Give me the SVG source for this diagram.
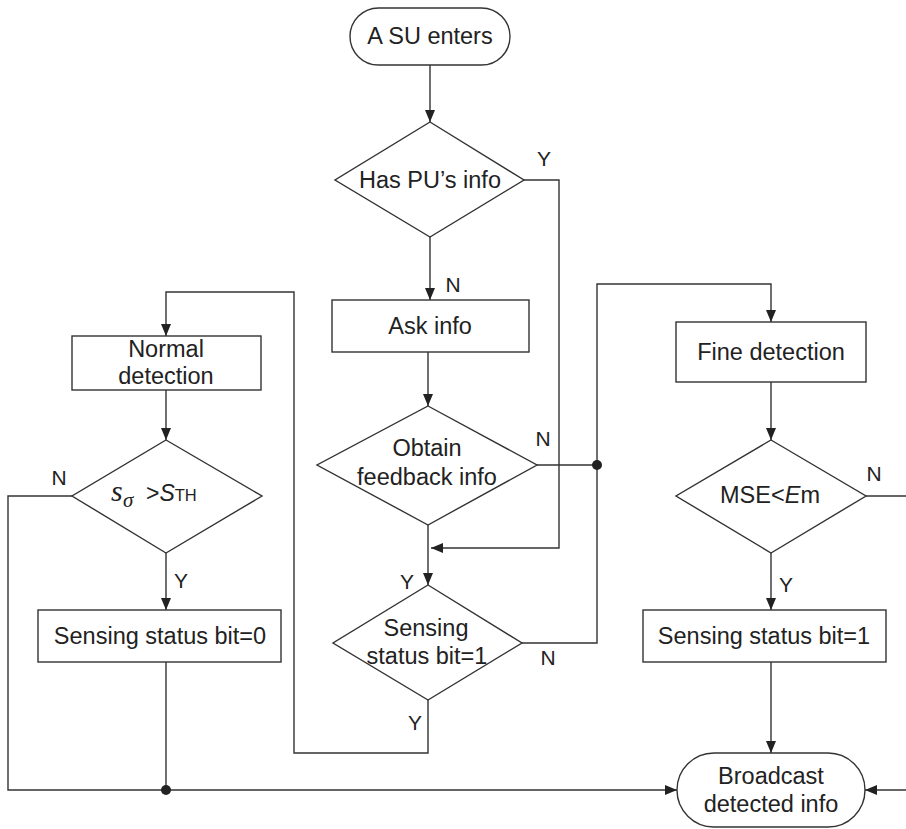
<svg xmlns="http://www.w3.org/2000/svg" width="906" height="829" viewBox="0 0 906 829">
<defs>
<style>
.sh{fill:#fff;stroke:#333;stroke-width:1.4}
.ln{fill:none;stroke:#333;stroke-width:1.4}
.t{font-family:"Liberation Sans",Arial,sans-serif;font-size:23.5px;fill:#222;text-anchor:middle}
.lb{font-family:"Liberation Sans",Arial,sans-serif;font-size:21px;fill:#222;text-anchor:middle}
.dot{fill:#222}
</style>
<marker id="ah" markerUnits="userSpaceOnUse" markerWidth="13" markerHeight="11" refX="12" refY="5" orient="auto">
<path d="M0,0 L12,5 L0,10 z" fill="#222"/>
</marker>
</defs>
<rect width="906" height="829" fill="#fff"/>

<g id="connectors">
<path class="ln" d="M430,65 V122" marker-end="url(#ah)"/>
<path class="ln" d="M523,180 H559 V548 H431" marker-end="url(#ah)"/>
<path class="ln" d="M430,237 V300" marker-end="url(#ah)"/>
<path class="ln" d="M428,352 V406" marker-end="url(#ah)"/>
<path class="ln" d="M537,465 H597"/>
<path class="ln" d="M428,525 V585" marker-end="url(#ah)"/>
<path class="ln" d="M522,643 H597 V284 H771 V322" marker-end="url(#ah)"/>
<path class="ln" d="M428,700 V753 H294 V292 H166 V336" marker-end="url(#ah)"/>
<path class="ln" d="M166,390 V440" marker-end="url(#ah)"/>
<path class="ln" d="M72,496 H8 V790 H677" marker-end="url(#ah)"/>
<path class="ln" d="M166,553 V610" marker-end="url(#ah)"/>
<path class="ln" d="M166,662 V790"/>
<path class="ln" d="M771,382 V440" marker-end="url(#ah)"/>
<path class="ln" d="M866,496 H906"/>
<path class="ln" d="M771,553 V610" marker-end="url(#ah)"/>
<path class="ln" d="M771,662 V753" marker-end="url(#ah)"/>
<path class="ln" d="M906,790 H865" marker-end="url(#ah)"/>
<circle class="dot" cx="597" cy="465" r="5"/>
<circle class="dot" cx="166" cy="790" r="5"/>
<text class="lb" x="544" y="166">Y</text>
<text class="lb" x="453" y="292">N</text>
<text class="lb" x="543" y="446">N</text>
<text class="lb" x="407" y="589">Y</text>
<text class="lb" x="548" y="665">N</text>
<text class="lb" x="415" y="730">Y</text>
<text class="lb" x="59" y="485">N</text>
<text class="lb" x="181" y="588">Y</text>
<text class="lb" x="874" y="481">N</text>
<text class="lb" x="786" y="592">Y</text>
</g>

<g id="start">
<rect class="sh" x="350" y="8" width="160" height="57" rx="28.5"/>
<text class="t" x="430" y="44">A SU enters</text>
</g>

<g id="has-pu-info">
<polygon class="sh" points="430,122 524,180 430,237 335,180"/>
<text class="t" x="430" y="188">Has PU’s info</text>
</g>

<g id="ask-info">
<rect class="sh" x="332" y="300" width="197" height="52"/>
<text class="t" x="430" y="334">Ask info</text>
</g>

<g id="obtain-feedback">
<polygon class="sh" points="428,406 537,465 428,525 317,465"/>
<text class="t" x="427" y="456">Obtain</text>
<text class="t" x="427" y="485">feedback info</text>
</g>

<g id="sensing-check">
<polygon class="sh" points="428,585 522,643 428,700 333,643"/>
<text class="t" x="426" y="636">Sensing</text>
<text class="t" x="427" y="664">status bit=1</text>
</g>

<g id="normal-detection">
<rect class="sh" x="72" y="336" width="189" height="54"/>
<text class="t" x="166" y="357">Normal</text>
<text class="t" x="166" y="384">detection</text>
</g>

<g id="threshold-check">
<polygon class="sh" points="166,440 262,496 166,553 72,496"/>
<text font-family="'Liberation Serif','Times New Roman',serif" font-style="italic" font-size="30" fill="#222" x="111" y="501">s</text>
<text font-family="'Liberation Serif','Times New Roman',serif" font-style="italic" font-size="21" fill="#222" x="123" y="507">σ</text>
<text font-family="'Liberation Sans',Arial,sans-serif" font-size="23" fill="#222" x="146" y="501">&gt;<tspan font-style="italic">S</tspan><tspan font-size="16.5">TH</tspan></text>
</g>

<g id="status-bit-0">
<rect class="sh" x="38" y="610" width="243" height="52"/>
<text class="t" x="160" y="644">Sensing status bit=0</text>
</g>

<g id="fine-detection">
<rect class="sh" x="676" y="322" width="190" height="60"/>
<text class="t" x="771" y="360">Fine detection</text>
</g>

<g id="mse-check">
<polygon class="sh" points="771,440 866,496 771,553 676,496"/>
<text class="t" x="770" y="503">MSE&lt;<tspan font-style="italic">E</tspan>m</text>
</g>

<g id="status-bit-1">
<rect class="sh" x="643" y="610" width="243" height="52"/>
<text class="t" x="764" y="644">Sensing status bit=1</text>
</g>

<g id="broadcast">
<rect class="sh" x="677" y="753" width="188" height="74" rx="37"/>
<text class="t" x="771" y="784">Broadcast</text>
<text class="t" x="771" y="812">detected info</text>
</g>
</svg>
